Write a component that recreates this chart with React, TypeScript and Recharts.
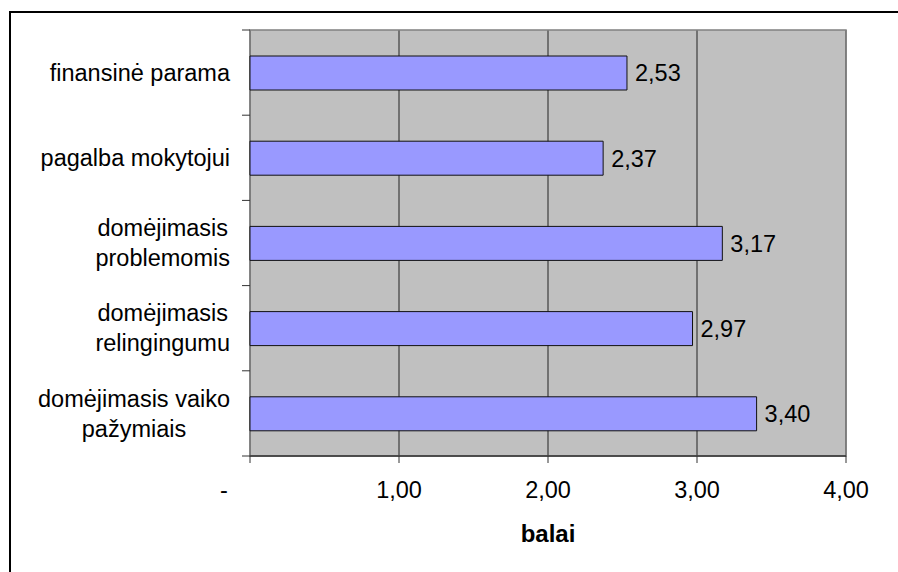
import {
  Bar,
  BarChart,
  CartesianGrid,
  LabelList,
  ReferenceArea,
  XAxis,
  YAxis,
} from "recharts";

const categories = [
  "finansinė parama",
  "pagalba mokytojui",
  "domėjimasis\nproblemomis",
  "domėjimasis\nrelingingumu",
  "domėjimasis vaiko\npažymiais",
];
const scores = [2.53, 2.37, 3.17, 2.97, 3.4];
const xTicks = [0, 1, 2, 3, 4];
const axisTitle = "balai";

const data = categories.map((name, i) => ({ name, score: scores[i] }));

const FONT = "'Liberation Sans', Arial, sans-serif";
const FS = 23.5;
const LINE_H = 30;

const fmt = (v: number) => (v === 0 ? "-" : v.toFixed(2).replace(".", ","));

let ctx: CanvasRenderingContext2D | null = null;
function textWidth(s: string) {
  if (!ctx) ctx = document.createElement("canvas").getContext("2d");
  if (!ctx) return s.length * FS * 0.5;
  ctx.font = `${FS}px "Liberation Sans", Arial, sans-serif`;
  return ctx.measureText(s).width;
}

// category labels: lines centred within a block that is right-aligned,
// plus tick marks on the band boundaries
function CategoryTick(props: any) {
  const { x, y, payload, index, visibleTicksCount } = props;
  const lines = String(payload.value).split("\n");
  const half = payload.offset ?? 42.6;
  const axisX = x + 20;
  const blockW = Math.max(...lines.map(textWidth));
  const cx = x - blockW / 2;
  const firstY = y - ((lines.length - 1) * LINE_H) / 2 + FS * 0.35;
  return (
    <g>
      <line x1={axisX - 8} x2={axisX} y1={y - half} y2={y - half} stroke="#333" />
      {index === visibleTicksCount - 1 && (
        <line x1={axisX - 8} x2={axisX} y1={y + half} y2={y + half} stroke="#333" />
      )}
      <text textAnchor="middle" fill="#000" fontSize={FS} fontFamily={FONT}>
        {lines.map((l, i) => (
          <tspan key={i} x={cx} y={firstY + i * LINE_H}>
            {l}
          </tspan>
        ))}
      </text>
    </g>
  );
}

function ValueTick(props: any) {
  const { x, y, payload } = props;
  const v = payload.value as number;
  return (
    <text
      x={v === 0 ? x - 26 : x}
      y={y}
      dy="0.71em"
      textAnchor="middle"
      fill="#000"
      fontSize={FS}
      fontFamily={FONT}
    >
      {fmt(v)}
    </text>
  );
}

export default function App() {
  return (
    <div
      style={{
        position: "absolute",
        left: 0,
        top: 0,
        width: 898,
        height: 572,
        overflow: "hidden",
        background: "#fff",
      }}
    >
      <div
        style={{
          position: "absolute",
          left: 9,
          top: 11,
          width: 1000,
          height: 1000,
          borderLeft: "2px solid #000",
          borderTop: "2px solid #000",
        }}
      />
      <BarChart
        layout="vertical"
        width={898}
        height={572}
        data={data}
        margin={{ top: 30, right: 52, bottom: 0, left: 0 }}
        style={{ position: "absolute", left: 0, top: 0, fontFamily: FONT }}
      >
        <CartesianGrid horizontal={false} stroke="#222" fill="#C0C0C0" fillOpacity={1} />
        <ReferenceArea x1={0} x2={4} fill="none" stroke="#808080" strokeWidth={1.5} ifOverflow="visible" />
        <XAxis
          type="number"
          domain={[0, 4]}
          ticks={xTicks}
          height={116}
          tickSize={7}
          tickMargin={18}
          tickLine={{ stroke: "#333" }}
          axisLine={{ stroke: "#333", strokeWidth: 1.5 }}
          tick={<ValueTick />}
          label={{
            value: axisTitle,
            position: "insideBottom",
            offset: 30,
            fontWeight: 700,
            fontSize: 24,
            fill: "#000",
            fontFamily: FONT,
          }}
        />
        <YAxis
          type="category"
          dataKey="name"
          width={250}
          tickSize={8}
          tickMargin={12}
          tickLine={false}
          axisLine={false}
          tick={<CategoryTick />}
          interval={0}
        />
        <Bar
          dataKey="score"
          fill="#9999FF"
          stroke="#111"
          strokeWidth={1}
          barSize={34}
          isAnimationActive={false}
        >
          <LabelList
            dataKey="score"
            position="right"
            offset={8}
            formatter={(v: any) => fmt(Number(v))}
            fill="#000"
            fontSize={FS}
            fontFamily={FONT}
          />
        </Bar>
      </BarChart>
    </div>
  );
}
